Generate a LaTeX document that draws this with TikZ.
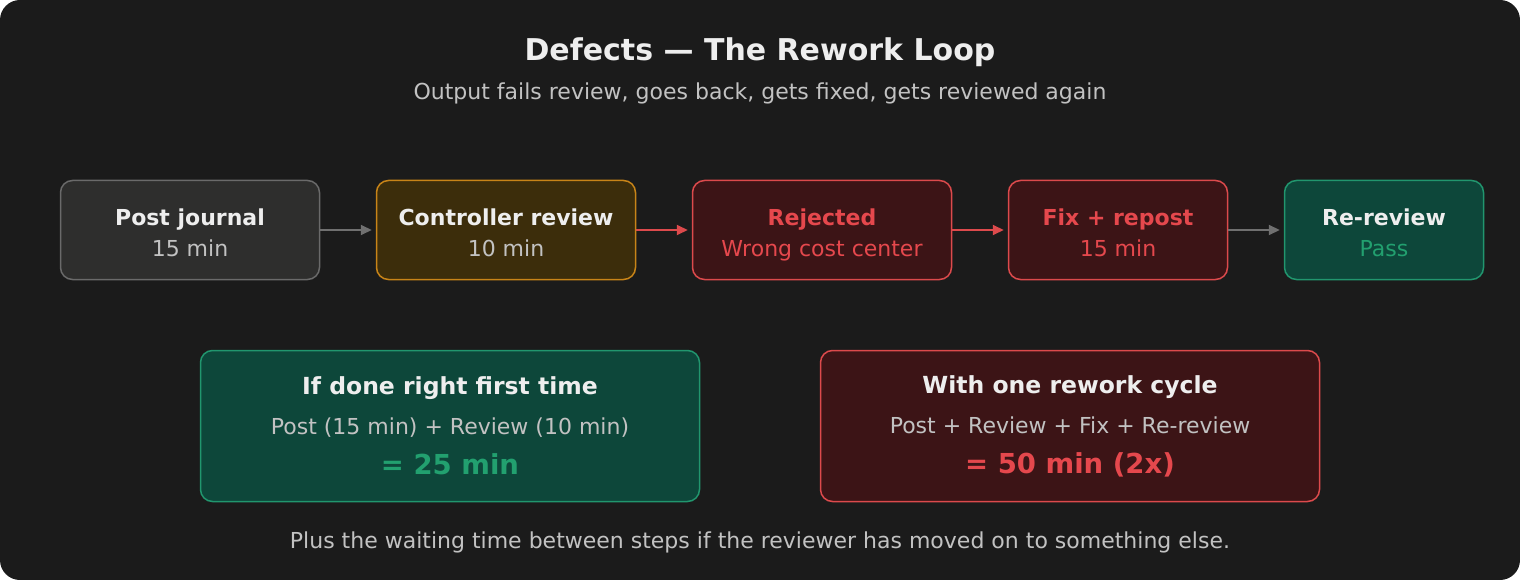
\documentclass[tikz,border=0pt]{standalone}
\usepackage{fontspec}
\setmainfont{DejaVu Sans}
\usepackage{xcolor}
\usetikzlibrary{arrows.meta, positioning}

\definecolor{bgdark}{HTML}{1B1B1B}
\definecolor{txtwhite}{HTML}{EEEEEE}
\definecolor{txtgray}{HTML}{C2C2C2}
\definecolor{neutralfill}{HTML}{2E2E2D}
\definecolor{neutraldraw}{HTML}{6A6A6A}
\definecolor{amberfill}{HTML}{3C2D0B}
\definecolor{amberdraw}{HTML}{C88418}
\definecolor{redfill}{HTML}{3C1416}
\definecolor{reddraw}{HTML}{DC4A4C}
\definecolor{redtext}{HTML}{E5484D}
\definecolor{greenfill}{HTML}{0D473A}
\definecolor{greendraw}{HTML}{21966E}
\definecolor{greentext}{HTML}{22A06F}
\definecolor{arrowgray}{HTML}{707070}

\begin{document}
\begin{tikzpicture}[
    x=1pt, y=-1pt,
    node distance=56pt,
    every node/.style={text=txtgray, inner sep=0pt},
    stepbox/.style={rectangle, draw, rounded corners=12pt, line width=1.5pt, minimum width=259pt, minimum height=99pt, text height=57pt, text depth=5pt, align=center, font=\fontsize{22}{31}\selectfont},
    sumbox/.style={rectangle, draw, rounded corners=12pt, line width=1.5pt, minimum width=499pt, minimum height=151pt, align=center, font=\fontsize{22}{40}\selectfont},
    neutral/.style={fill=neutralfill, draw=neutraldraw},
    amber/.style={fill=amberfill, draw=amberdraw},
    bad/.style={fill=redfill, draw=reddraw},
    good/.style={fill=greenfill, draw=greendraw},
    arrow/.style={-{Triangle[length=11pt, width=10pt]}, line width=2pt, shorten >=4pt}
]
% frame
\useasboundingbox (0,0) rectangle (1520,580);
\fill[bgdark] (0,0) [rounded corners=20pt] rectangle (1520,580);

% title
\node[text=txtwhite, font=\fontsize{30}{36}\selectfont\bfseries] (title) at (760,52) {Defects — The Rework Loop};
\node[font=\fontsize{22}{26}\selectfont] (subtitle) at (760,93) {Output fails review, goes back, gets fixed, gets reviewed again};

% process row
\node[stepbox, neutral] (post) at (190,230) {{\color{txtwhite}\bfseries Post journal}\\15 min};
\node[stepbox, amber, right=55.5pt of post] (review) {{\color{txtwhite}\bfseries Controller review}\\10 min};
\node[stepbox, bad, right=55.5pt of review, text=redtext] (reject) {{\bfseries Rejected}\\Wrong cost center};
\node[stepbox, bad, right=55.5pt of reject, minimum width=219pt, text=redtext] (fix) {{\bfseries Fix + repost}\\15 min};
\node[stepbox, good, right=55.5pt of fix, minimum width=199pt, text=greentext] (rereview) {{\color{txtwhite}\bfseries Re-review}\\Pass};

\draw[arrow, arrowgray] (post) -- (review);
\draw[arrow, reddraw] (review) -- (reject);
\draw[arrow, reddraw] (reject) -- (fix);
\draw[arrow, arrowgray] (fix) -- (rereview);

% totals
\node[sumbox, good] (firsttime) at (450,426) {{\color{txtwhite}\fontsize{23.5}{40}\selectfont\bfseries If done right first time}\\Post (15 min) + Review (10 min)\\{\color{greentext}\fontsize{27.5}{40}\selectfont\bfseries = 25 min}};
\node[sumbox, bad, right=119.5pt of firsttime] (onecycle) {{\color{txtwhite}\fontsize{23.5}{40}\selectfont\bfseries With one rework cycle}\\Post + Review + Fix + Re-review\\{\color{redtext}\fontsize{27.5}{40}\selectfont\bfseries = 50 min (2x)}};

% footnote
\node[font=\fontsize{22}{26}\selectfont] (note) at (760,542) {Plus the waiting time between steps if the reviewer has moved on to something else.};
\end{tikzpicture}
\end{document}
